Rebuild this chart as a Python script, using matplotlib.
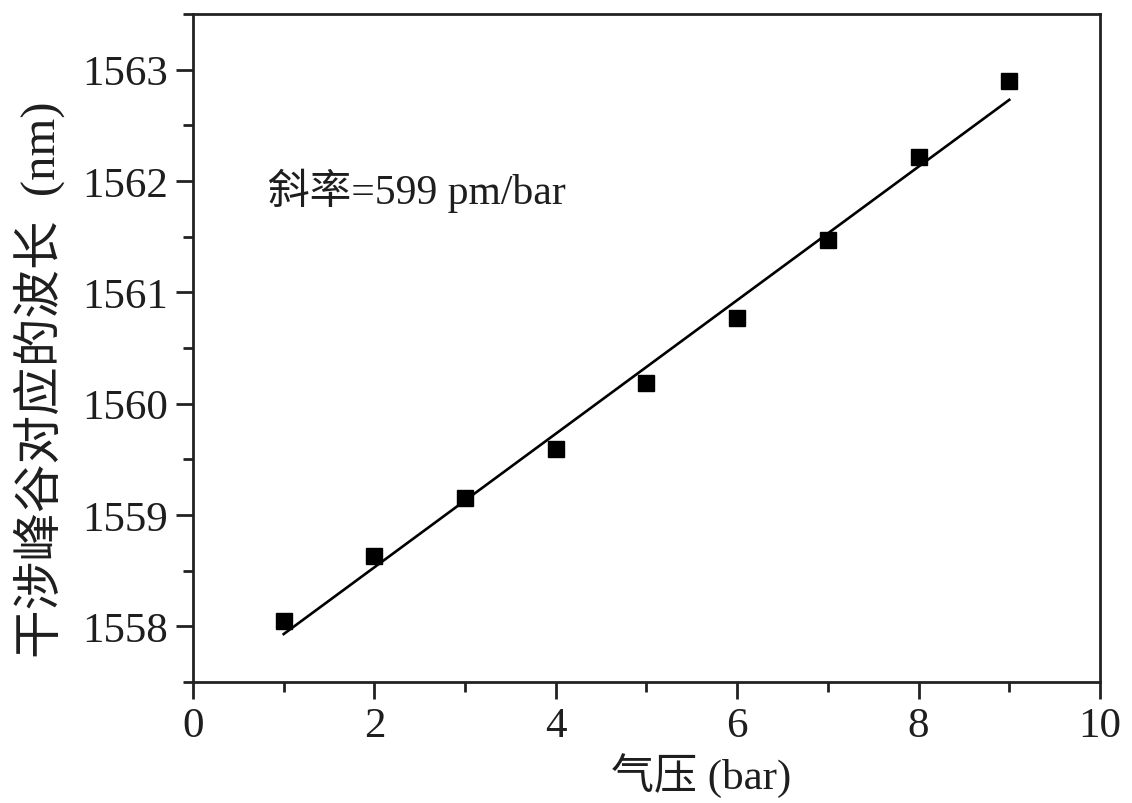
import numpy as np
import matplotlib
matplotlib.use("Agg")
import matplotlib.pyplot as plt
from matplotlib.ticker import MultipleLocator

plt.rcParams['font.family'] = ['Liberation Serif', 'Noto Sans CJK SC']

pressure = [1, 2, 3, 4, 5, 6, 7, 8, 9]
wavelength = [1558.05, 1558.63, 1559.15, 1559.59, 1560.19, 1560.77, 1561.47, 1562.22, 1562.90]
xlabel = "气压 (bar)"
ylabel = "干涉峰谷对应的波长  (nm)"
note = "斜率=599 pm/bar"

txt_color = '#1e1e1e'
fig = plt.figure(figsize=(11.32, 8.04), dpi=100)
ax = fig.add_axes([0.1705, 0.1505, 0.8012, 0.8308])

x = np.array(pressure)
y = np.array(wavelength)
k, b = np.polyfit(x, y, 1)
ax.plot(x, k * x + b, color='black', lw=1.9, zorder=2)
ax.plot(x, y, 's', color='black', ms=11, zorder=3)

ax.set_xlim(0, 10)
ax.set_ylim(1557.5, 1563.5)
ax.xaxis.set_major_locator(MultipleLocator(2))
ax.xaxis.set_minor_locator(MultipleLocator(1))
ax.yaxis.set_major_locator(MultipleLocator(1))
ax.yaxis.set_minor_locator(MultipleLocator(0.5))
ax.tick_params(which='major', direction='out', length=12, width=2, labelsize=31, pad=6,
               labelcolor=txt_color, color='#222222')
ax.tick_params(which='minor', direction='out', length=7, width=2, color='#222222')
ax.tick_params(top=False, right=False)
for s in ax.spines.values():
    s.set_linewidth(2)
    s.set_color('#222222')

ax.set_xlabel(xlabel, fontsize=31, color=txt_color, va='center', ha='center')
ax.set_ylabel(ylabel, fontsize=35, color=txt_color, va='center', ha='center')
ax.xaxis.set_label_coords(0.56, -0.138)
ax.yaxis.set_label_coords(-0.169, 0.454)

ax.text(0.83, 1561.92, note, fontsize=30, va='center', ha='left', color=txt_color)

fig.savefig("out.png", dpi=100)
